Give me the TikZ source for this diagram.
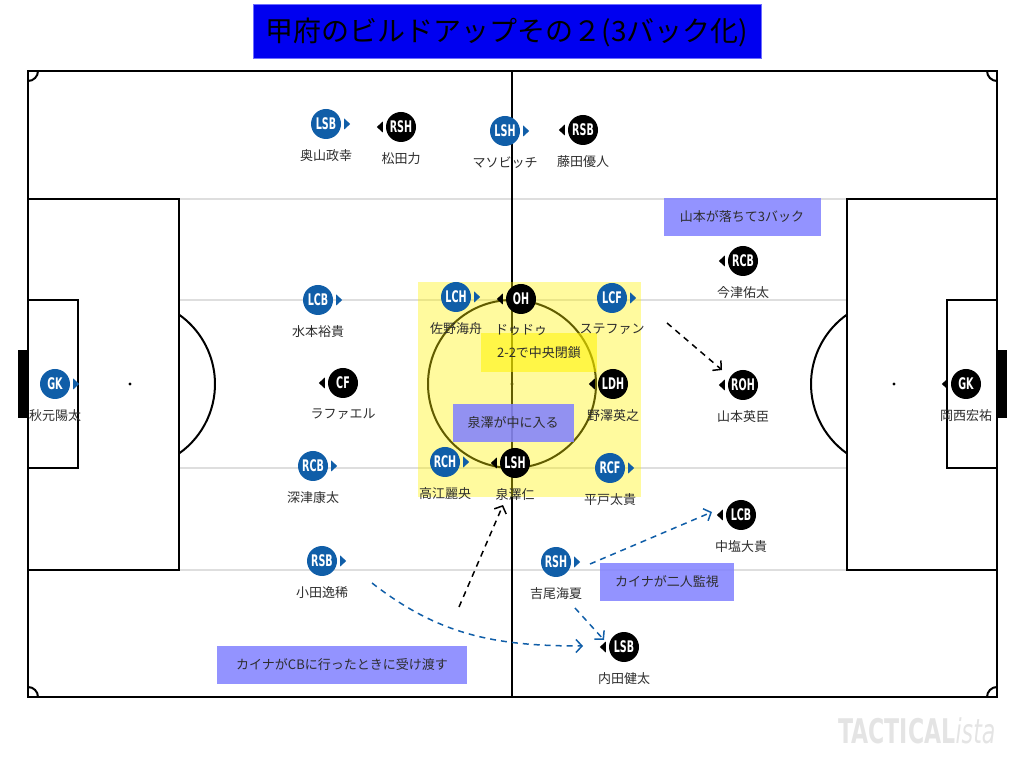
\documentclass[tikz,border=0pt]{standalone}
\usepackage{fontspec}
\setmainfont{Noto Sans CJK JP}
\newfontfamily\tokfont[FakeStretch=0.6]{DejaVu Sans}
\newfontfamily\wmfont[FakeStretch=0.65]{DejaVu Sans}
\usetikzlibrary{positioning,arrows.meta}
\definecolor{tokblue}{RGB}{16,94,168}
\definecolor{titleblue}{RGB}{0,0,240}
\definecolor{labblue}{RGB}{128,128,255}
\definecolor{laneg}{RGB}{222,222,222}
\definecolor{namec}{RGB}{45,45,45}
\definecolor{wmgray}{RGB}{228,228,228}
\tikzset{
  tok/.style={circle, minimum size=30pt, inner sep=0pt, text=white,
    font=\tokfont\bfseries\fontsize{16}{16}\selectfont},
  hometok/.style={tok, fill=tokblue},
  awaytok/.style={tok, fill=black},
  plname/.style={inner sep=1pt, text=namec, font=\fontsize{13}{13}\selectfont},
  note/.style={fill=labblue, fill opacity=.85, text opacity=1, text=namec,
    minimum height=38pt, inner sep=0pt, font=\fontsize{13}{13}\selectfont},
  pitchline/.style={line width=2pt},
  runarrow/.style={dash pattern=on 6pt off 5pt, line width=1.5pt,
    -{Straight Barb[length=6pt,width=13pt]}},
}
\begin{document}
\begin{tikzpicture}[x=1pt, y=1pt]
\useasboundingbox (0,0) rectangle (1024,768);
% pitch
\draw[laneg, line width=1.5pt] (179,569)--(847,569) (179,468)--(847,468)
  (179,300)--(847,300) (179,198)--(847,198);
\draw[pitchline] (28,71) rectangle (997,697);
\draw[pitchline] (512,71)--(512,697);
\draw[pitchline] (512,384) circle (84);
\fill (512,384) circle (1.6);
\draw[pitchline] (28,198) rectangle (179,569);
\draw[pitchline] (28,300) rectangle (78,468);
\draw[pitchline] (847,198) rectangle (997,569);
\draw[pitchline] (947,300) rectangle (997,468);
\fill (130,384) circle (1.6); \fill (894,384) circle (1.6);
\draw[pitchline] (179,314.5) arc (-54.8:54.8:85);
\draw[pitchline] (847,314.5) arc (234.8:125.2:85);
\fill (18,350) rectangle (28,418); \fill (997,350) rectangle (1007,418);
\draw[pitchline] (38,697) arc (0:-90:10);
\draw[pitchline] (28,81) arc (90:0:10);
\draw[pitchline] (987,697) arc (180:270:10);
\draw[pitchline] (997,81) arc (90:180:10);
% title
\node[fill=titleblue, draw={rgb,255:red,110;green,110;blue,255}, line width=1pt,
  minimum width=508pt, minimum height=54pt, font=\fontsize{28}{28}\selectfont]
  (title) at (507,736) {甲府のビルドアップその２(3バック化)};
% central zone
\fill[yellow, fill opacity=.38] (418,271) rectangle (641,486);
\node[note, fill=yellow, fill opacity=.55, minimum width=116pt, minimum height=39pt]
  (close) at (539,415) {2-2で中央閉鎖};
\node[note, minimum width=121pt] (inside) at (513,345) {泉澤が中に入る};
\node[note, minimum width=157pt] (drop) at (742,551) {山本が落ちて3バック};
\node[note, minimum width=134pt] (watch) at (667,186) {カイナが二人監視};
\node[note, minimum width=250pt] (pass) at (342,103) {カイナがCBに行ったときに受け渡す};
% players
\foreach \n/\x/\y/\r/\nm in {hlsb/326/644/LSB/奥山政幸, hlsh/505/637/LSH/マソビッチ,
  hlcb/318/468/LCB/水本裕貴, hrcb/313/302/RCB/深津康太, hrsb/322/207/RSB/小田逸稀,
  hgk/55/384/GK/秋元陽太, hlch/456/471/LCH/佐野海舟, hlcf/612/470/LCF/ステファン,
  hrch/445/306/RCH/高江麗央, hrcf/610/300/RCF/平戸太貴, hrsh/556/206/RSH/吉尾海夏}{
  \node[hometok] (\n) at (\x,\y) {\r};
  \fill[tokblue] ([shift={(3,5.5)}]\n.east) -- ++(6,-5.5) -- ++(-6,-5.5) -- cycle;
  \node[plname, below=9pt of \n] (\n-nm) {\nm};
}
\foreach \n/\x/\y/\r/\nm in {arsh/401/641/RSH/松田力, arsb/583/638/RSB/藤田優人,
  acf/343/385/CF/ラファエル, aoh/521/469/OH/ドゥドゥ, aldh/613/384/LDH/野澤英之,
  alsh/515/305/LSH/泉澤仁, arcb/743/507/RCB/今津佑太, aroh/743/383/ROH/山本英臣,
  agk/966/384/GK/岡西宏祐, alcb/741/253/LCB/中塩大貴, alsb/624/121/LSB/内田健太}{
  \node[awaytok] (\n) at (\x,\y) {\r};
  \fill ([shift={(-3,5.5)}]\n.west) -- ++(-6,-5.5) -- ++(6,-5.5) -- cycle;
  \node[plname, below=9pt of \n] (\n-nm) {\nm};
}
% runs
\coordinate (dropfrom) at (667,445);
\coordinate (infrom) at (459,161);
\draw[runarrow] (dropfrom) -- ([shift={(-21,15)}]aroh.center);
\draw[runarrow] (infrom) -- ([shift={(-12,-42)}]alsh.center);
\draw[runarrow, tokblue] ([shift={(50,-22)}]hrsb.center) to[out=-38, in=180]
  ([shift={(-41,1)}]alsb.center);
\draw[runarrow, tokblue] ([shift={(34,-2)}]hrsh.center) -- ([shift={(-29,3)}]alcb.center);
\draw[runarrow, tokblue] ([shift={(19,-46)}]hrsh.center) -- ([shift={(-20,7)}]alsb.center);
% watermark
\node[text=wmgray, inner sep=0pt, anchor=west] (wm) at (838,37)
  {\wmfont\fontsize{34}{34}\selectfont\bfseries TACTICAL\mdseries\itshape ista};
\end{tikzpicture}
\end{document}
